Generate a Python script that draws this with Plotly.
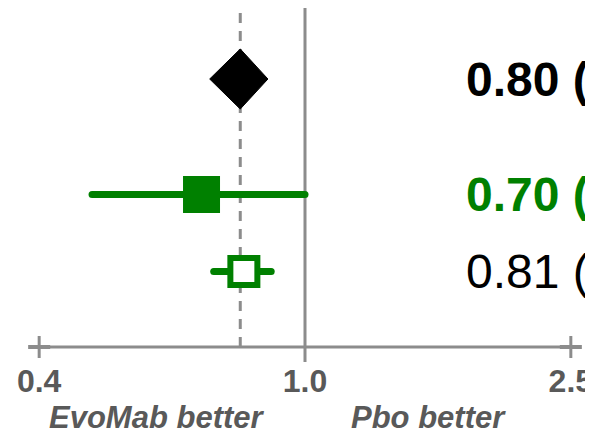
import math
import plotly.graph_objects as go

# ---- data ----
rows = ["Overall", "Study A", "Study B"]
row_pos = [0, 3, 5]            # row slots (blank rows between groups)
estimates = [0.80, 0.70, 0.81]
ci_low = [0.72, 0.48, 0.73]
ci_high = [0.88, 1.00, 0.89]
labels = ["0.80 (0.72, 0.88)", "0.70 (0.48, 1.00)", "0.81 (0.73, 0.89)"]
tick_vals = [0.4, 1.0, 2.5]
tick_text = ["0.4", "1.0", "2.5"]
ref_line = 1.0
pooled_line = 0.80
favours = ["EvoMab better", "Pbo better"]
favours_x = [0.60, 1.53]

GREEN = "#008000"
GREY = "#8c8c8c"
DARK = "#595959"
FONT = "Liberation Sans, Arial, sans-serif"

fig = go.Figure()

# CI lines (round end caps emulated by small circles)
for i in (1, 2):
    fig.add_trace(go.Scatter(
        x=[ci_low[i], ci_high[i]], y=[row_pos[i], row_pos[i]],
        mode="lines+markers",
        line=dict(color=GREEN, width=7),
        marker=dict(symbol="circle", size=7, color=GREEN),
        hoverinfo="skip", showlegend=False))

# pooled diamond spanning its CI
dh = 0.78
fig.add_trace(go.Scatter(
    x=[ci_low[0], estimates[0], ci_high[0], estimates[0], ci_low[0]],
    y=[row_pos[0], row_pos[0] - dh, row_pos[0], row_pos[0] + dh, row_pos[0]],
    mode="lines", fill="toself", fillcolor="black",
    line=dict(color="black", width=1),
    hoverinfo="skip", showlegend=False))

# filled square
fig.add_trace(go.Scatter(
    x=[estimates[1]], y=[row_pos[1]], mode="markers",
    marker=dict(symbol="square", size=34, color=GREEN,
                line=dict(color=GREEN, width=3)),
    hoverinfo="skip", showlegend=False))

# open square
fig.add_trace(go.Scatter(
    x=[estimates[2]], y=[row_pos[2]], mode="markers",
    marker=dict(symbol="square", size=27, color="white",
                line=dict(color=GREEN, width=6)),
    hoverinfo="skip", showlegend=False))

# estimate labels
label_x = 1.73
label_styles = [("black", True), (GREEN, True), ("black", False)]
for i, txt in enumerate(labels):
    col, bold = label_styles[i]
    fig.add_annotation(
        x=math.log10(label_x), y=row_pos[i], xref="x", yref="y",
        text=f"<b>{txt}</b>" if bold else txt,
        showarrow=False, xanchor="left", yanchor="middle",
        font=dict(family=FONT, size=48, color=col))

shapes = []
# reference line at 1.0 (extends just below axis)
shapes.append(dict(type="line", xref="x", yref="paper",
                   x0=ref_line, x1=ref_line, y0=-0.044, y1=1,
                   line=dict(color=GREY, width=3), layer="below"))
# pooled estimate dashed line
shapes.append(dict(type="line", xref="x", yref="paper",
                   x0=pooled_line, x1=pooled_line, y0=0, y1=1,
                   line=dict(color=GREY, width=3, dash="10px,8px"), layer="below"))
# axis line between end ticks
shapes.append(dict(type="line", xref="x", yref="paper",
                   x0=tick_vals[0], x1=tick_vals[-1], y0=0, y1=0,
                   line=dict(color=GREY, width=3)))
# "+" crosses at the end ticks
arm = 1.0387
for tv in (tick_vals[0], tick_vals[-1]):
    shapes.append(dict(type="line", xref="x", yref="paper",
                       x0=tv, x1=tv, y0=-0.0324, y1=0.0324,
                       line=dict(color=GREY, width=3)))
    shapes.append(dict(type="line", xref="x", yref="paper",
                       x0=tv / arm, x1=tv * arm, y0=0, y1=0,
                       line=dict(color=GREY, width=4)))

for txt, fx in zip(favours, favours_x):
    fig.add_annotation(
        x=math.log10(fx), y=-0.2065, xref="x", yref="paper",
        text=f"<b><i>{txt}</i></b>", showarrow=False,
        xanchor="center", yanchor="middle",
        font=dict(family=FONT, size=31, color=DARK))

fig.update_layout(
    width=593, height=435,
    margin=dict(l=0, r=0, t=0, b=96),
    paper_bgcolor="white", plot_bgcolor="white",
    shapes=shapes,
    xaxis=dict(type="log", range=[-0.4446, 0.4431],
               tickvals=tick_vals, ticktext=[f"<b>{t}</b>" for t in tick_text],
               tickfont=dict(family=FONT, size=32, color=DARK),
               ticks="", showline=False, showgrid=False, zeroline=False,
               ticklabelstandoff=12),
    yaxis=dict(range=[6.96, -1.844], visible=False, showgrid=False, zeroline=False),
)

fig.write_html("out.html")
